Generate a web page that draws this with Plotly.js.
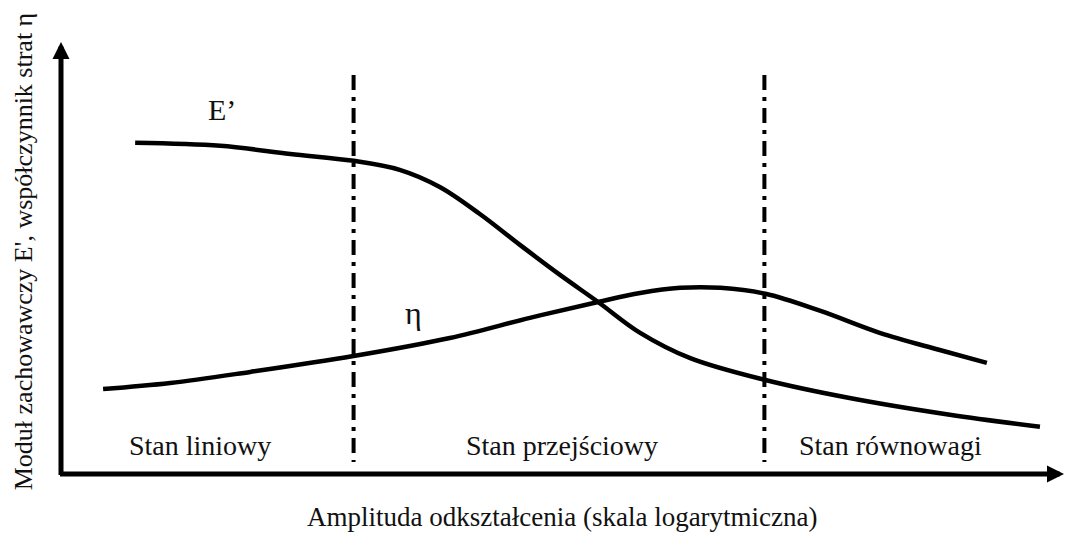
<!DOCTYPE html>
<html>
<head>
<meta charset="utf-8">
<script src="https://cdn.plot.ly/plotly-3.0.1.min.js"></script>
<style>
  html, body { margin: 0; padding: 0; background: #fff; }
  #chart { width: 1065px; height: 533px; }
</style>
</head>
<body>
<div id="chart"></div>
<script>
// Schematic: storage modulus E' and loss factor eta versus strain amplitude (log scale).
// Both axes are in arbitrary units from 0 to 100.

// Storage modulus E'
const eStrainX = [7.4, 15.9, 22.9, 29.2, 33.8, 37.8, 41.8, 45.8, 49.8, 53.6, 57.8, 62.8, 70.3, 78.7, 88.7, 97.7];
const eModulus = [77.2, 76.5, 74.6, 73.0, 70.9, 66.9, 60.6, 53.4, 46.4, 40.1, 32.9, 27.0, 21.9, 17.7, 13.8, 11.0];

// Loss factor eta
const etaStrainX = [4.2, 10.9, 18.9, 29.2, 38.8, 46.8, 53.6, 57.8, 61.8, 65.8, 70.3, 75.8, 81.7, 87.7, 92.4];
const etaLoss = [19.8, 21.2, 23.8, 27.5, 31.7, 36.4, 40.1, 42.2, 43.4, 43.4, 42.0, 38.0, 32.9, 28.9, 25.9];

// Boundaries between the three states and their names
const stateBounds = [29.2, 70.2];
const stateNames = ['Stan liniowy', 'Stan przejściowy', 'Stan równowagi'];
const stateLabelX = [13.9, 50.0, 82.8];

const curveNames = ['E’', 'η'];
const xTitle = 'Amplituda odkształcenia (skala logarytmiczna)';
const yTitle = "Moduł zachowawczy E', współczynnik strat η";

const serif = '"Liberation Serif", "Times New Roman", serif';
const ink = '#000000';

const traces = [
  {
    x: eStrainX, y: eModulus, name: curveNames[0], mode: 'lines',
    line: { color: ink, width: 4.5, shape: 'spline', smoothing: 1 },
    hoverinfo: 'skip'
  },
  {
    x: etaStrainX, y: etaLoss, name: curveNames[1], mode: 'lines',
    line: { color: ink, width: 4.5, shape: 'spline', smoothing: 1 },
    hoverinfo: 'skip'
  }
];

// Dash-dot separators between the states
stateBounds.forEach(b => {
  traces.push({
    x: [b, b], y: [93.0, 2.8], mode: 'lines', showlegend: false,
    line: { color: ink, width: 4, dash: '15px,7px,4px,7px' },
    hoverinfo: 'skip'
  });
});

const annotations = [];

// Axis arrows
annotations.push({
  xref: 'paper', yref: 'paper', axref: 'paper', ayref: 'paper',
  x: 1.001, y: 0, ax: -0.0025, ay: 0, text: '', showarrow: true,
  arrowhead: 2, arrowsize: 0.68, arrowwidth: 5, arrowcolor: ink, standoff: 0
});
annotations.push({
  xref: 'paper', yref: 'paper', axref: 'paper', ayref: 'paper',
  x: 0, y: 1.007, ax: 0, ay: -0.006, text: '', showarrow: true,
  arrowhead: 2, arrowsize: 0.68, arrowwidth: 5, arrowcolor: ink, standoff: 0
});

// Curve labels
annotations.push({ x: 16.1, y: 85.0, text: curveNames[0], showarrow: false,
  font: { family: serif, size: 30, color: '#111' }, xanchor: 'center', yanchor: 'middle' });
annotations.push({ x: 35.2, y: 37.6, text: curveNames[1], showarrow: false,
  font: { family: serif, size: 32, color: '#111' }, xanchor: 'center', yanchor: 'middle' });

// State names
stateNames.forEach((name, i) => {
  annotations.push({ x: stateLabelX[i], y: 6.6, text: name, showarrow: false,
    font: { family: serif, size: 28, color: '#111' }, xanchor: 'center', yanchor: 'middle' });
});

// Axis titles
annotations.push({ xref: 'paper', yref: 'paper', x: 0.5005, y: -0.100, text: xTitle,
  showarrow: false, font: { family: serif, size: 27, color: '#111' }, xanchor: 'center', yanchor: 'middle' });
annotations.push({ xref: 'paper', yref: 'paper', x: -0.038, y: 0.519, text: yTitle, textangle: -90,
  showarrow: false, font: { family: serif, size: 26, color: '#111' }, xanchor: 'center', yanchor: 'middle' });

const hidden = { range: [0, 100], showgrid: false, zeroline: false, showline: false,
  showticklabels: false, ticks: '', fixedrange: true };

const layout = {
  width: 1065, height: 533,
  margin: { l: 61, r: 2, t: 45, b: 59 },
  paper_bgcolor: '#ffffff', plot_bgcolor: '#ffffff',
  showlegend: false,
  xaxis: Object.assign({}, hidden),
  yaxis: Object.assign({}, hidden),
  annotations: annotations,
  font: { family: serif }
};

Plotly.newPlot('chart', traces, layout, { displayModeBar: false, staticPlot: true });
</script>
</body>
</html>
